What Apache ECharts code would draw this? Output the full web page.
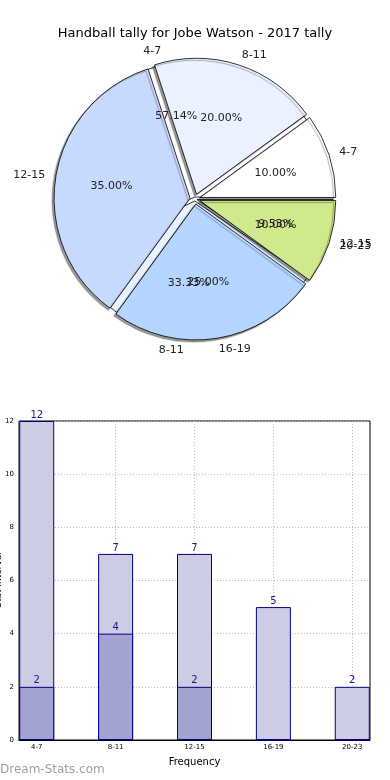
<!DOCTYPE html>
<html>
<head>
<meta charset="utf-8">
<script src="https://cdn.jsdelivr.net/npm/echarts@6/dist/echarts.min.js"></script>
<style>
html,body{margin:0;padding:0;background:#fff;}
#c{width:390px;height:780px;}
</style>
</head>
<body>
<div id="c"></div>
<script>
// ---- data ----
var titleText = 'Handball tally for Jobe Watson - 2017 tally';
var pieACats = ['4-7', '8-11', '12-15', '16-19', '20-23'];
var pieAValues = [2, 4, 7, 5, 2];
var pieBCats = ['4-7', '8-11', '12-15'];
var pieBValues = [12, 7, 2];
var barCats = ['4-7', '8-11', '12-15', '16-19', '20-23'];
var barTotal = [12, 7, 7, 5, 2];
var barPart = [2, 4, 2, 0, 0];
var yTicks = [0, 2, 4, 6, 8, 10, 12];
var xName = 'Frequency';
var yName = 'Stat Interval';
var watermark = 'Dream-Stats.com';

// ---- styling ----
var pieAColors = ['#ffffff', '#eaf2ff', '#c6d9ff', '#b3d5ff', '#cfea8a'];
var pieBColors = ['#ffffff', '#eaf2ff', '#c6d9ff'];
var FONT = 'DejaVu Sans';
var CX = 195, CY = 199, R = 136;

function mk(cats, vals, colors, selected) {
  return cats.map(function (c, i) {
    return { name: c, value: vals[i], selected: !!selected, itemStyle: { color: colors[i] } };
  });
}
function mkPlain(cats, vals) {
  return cats.map(function (c, i) { return { name: c, value: vals[i] }; });
}
var transparent = { color: 'rgba(0,0,0,0)', borderWidth: 0 };
var basePie = {
  type: 'pie', center: [CX, CY], startAngle: 0, clockwise: false,
  avoidLabelOverlap: false, animation: false, emphasis: { disabled: true },
  labelLine: { show: false }, labelLayout: { hideOverlap: false }
};
function pie(extra) { return Object.assign({}, basePie, extra); }

function outerLabels(cats, vals, z) {
  return pie({
    z: z, silent: true, radius: R, data: mkPlain(cats, vals),
    itemStyle: transparent,
    label: { show: true, position: 'outside', formatter: '{b}', fontSize: 11, color: '#222', fontFamily: FONT, distanceToLabelLine: 0 },
    labelLine: { show: false, length: 0.1 * R + 2, length2: 0 }
  });
}
function innerLabels(cats, vals, z) {
  return pie({
    z: z, silent: true, radius: [0.2 * R, R], data: mkPlain(cats, vals),
    itemStyle: transparent,
    label: { show: true, position: 'inside', fontSize: 11, color: '#222', fontFamily: FONT,
      formatter: function (p) { return p.percent.toFixed(2) + '%'; } }
  });
}

var barLabelColor = '#1a1a8a';
var option = {
  animation: false,
  textStyle: { fontFamily: FONT },
  title: {
    text: titleText, left: 'center', top: 22,
    textStyle: { fontSize: 13, fontWeight: 'normal', color: '#000', fontFamily: FONT }
  },
  grid: { left: 19, right: 20, top: 421, bottom: 40, show: true, borderColor: '#000', borderWidth: 1, backgroundColor: 'rgba(0,0,0,0)' },
  xAxis: {
    type: 'value', min: -0.225, max: 4.225,
    name: xName, nameLocation: 'middle', nameGap: 17,
    nameTextStyle: { fontSize: 10, color: '#000' },
    axisLine: { show: true, lineStyle: { color: '#000' } },
    axisTick: { show: true, inside: true, length: 3, customValues: [0, 1, 2, 3, 4], lineStyle: { color: '#000' } },
    axisLabel: { fontSize: 7, color: '#000', margin: 4, customValues: [0, 1, 2, 3, 4],
      formatter: function (v) { return barCats[Math.round(v)]; } },
    splitLine: { show: true, lineStyle: { color: '#bbb', type: [1, 2] } }
  },
  yAxis: {
    type: 'value', min: yTicks[0], max: yTicks[yTicks.length - 1], interval: yTicks[1] - yTicks[0],
    axisLine: { show: true, lineStyle: { color: '#000' } },
    axisTick: { show: true, inside: true, length: 3, lineStyle: { color: '#000' } },
    axisLabel: { fontSize: 7, color: '#000', margin: 5 },
    splitLine: { show: true, lineStyle: { color: '#bbb', type: [1, 2] } }
  },
  graphic: [
    { type: 'text', left: 0, top: 764, style: { text: watermark, fontSize: 12, fontWeight: 'normal', fill: '#a0a0a0', fontFamily: FONT } },
    { type: 'text', x: -1, y: 580, rotation: Math.PI / 2, style: { text: yName, fontSize: 9, fill: '#000', fontFamily: FONT, align: 'center', verticalAlign: 'middle' } }
  ],
  series: [
    pie({
      z: 1, silent: true, radius: R, data: mk(pieBCats, pieBValues, pieBColors, true),
      selectedMode: 'multiple', selectedOffset: 2,
      itemStyle: { borderColor: '#000', borderWidth: 0.8 },
      label: { show: false }
    }),
    pie({
      z: 2, silent: true, radius: R, data: mk(pieACats, pieAValues, pieAColors, true),
      selectedMode: 'multiple', selectedOffset: 5,
      itemStyle: { borderColor: '#000', borderWidth: 0.8, shadowColor: 'rgba(0,0,0,0.4)', shadowBlur: 1, shadowOffsetX: -2, shadowOffsetY: 2 },
      label: { show: false }
    }),
    outerLabels(pieACats, pieAValues, 5),
    innerLabels(pieACats, pieAValues, 5),
    outerLabels(pieBCats, pieBValues, 5),
    innerLabels(pieBCats, pieBValues, 5),
    {
      type: 'bar', z: 3, barWidth: 35, barGap: '-100%',
      data: barTotal.map(function (v, i) { return [i, v]; }),
      itemStyle: { color: '#ccccE5', borderColor: '#000080', borderWidth: 1 },
      label: { show: true, position: 'top', distance: 1, fontSize: 10, color: barLabelColor,
        formatter: function (p) { return p.value[1]; } }
    },
    {
      type: 'bar', z: 4, barWidth: 35, barGap: '-100%',
      data: barPart.map(function (v, i) { return [i, v]; }),
      itemStyle: { color: '#a3a3d1', borderColor: '#000080', borderWidth: 1 },
      label: { show: true, position: 'top', distance: 1, fontSize: 10, color: barLabelColor,
        formatter: function (p) { return p.value[1] ? p.value[1] : ''; } }
    }
  ]
};
var chart = echarts.init(document.getElementById('c'), null, { renderer: 'canvas' });
chart.setOption(option);
</script>
</body>
</html>
